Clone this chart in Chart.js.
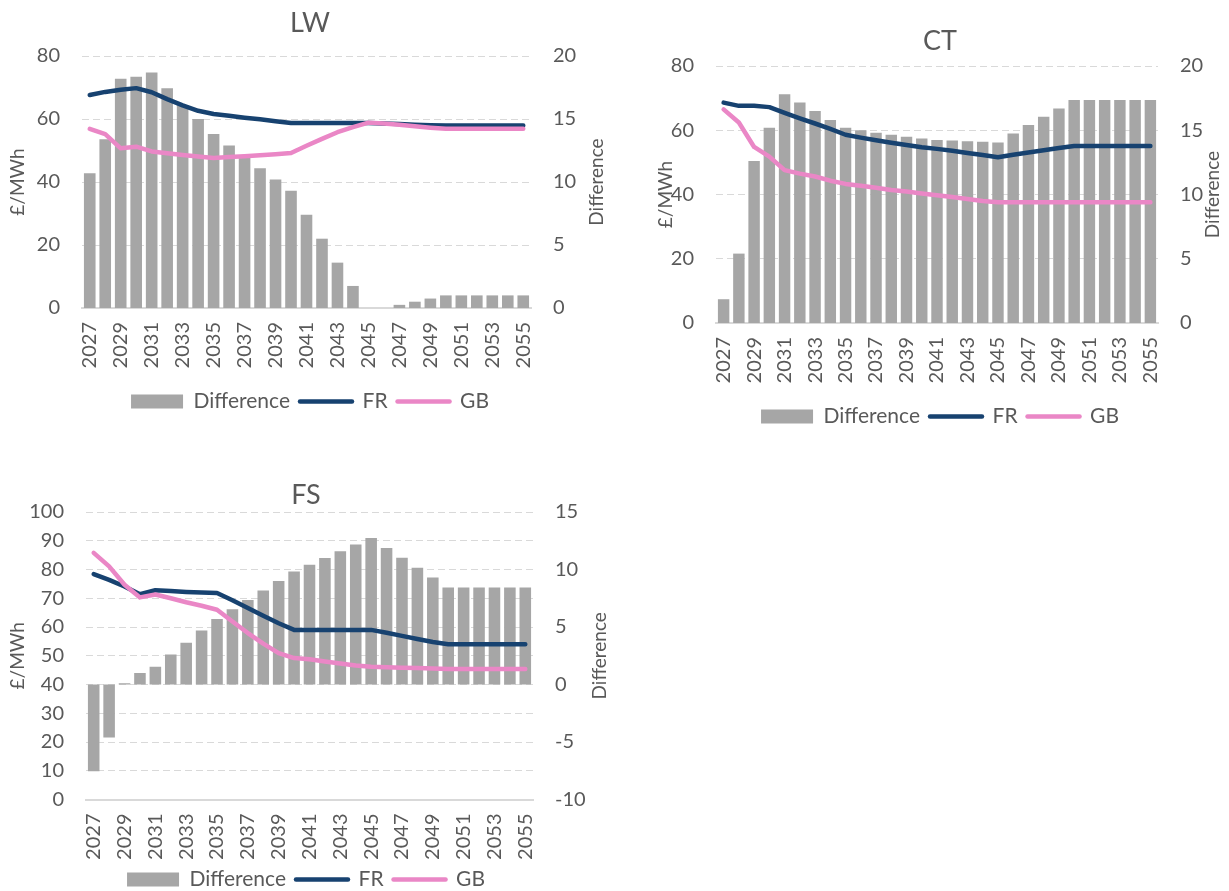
<!DOCTYPE html>
<html>
<head>
<meta charset="utf-8">
<script src="https://cdn.jsdelivr.net/npm/chart.js@4.4.1/dist/chart.umd.min.js"></script>
<style>
  html, body { margin: 0; padding: 0; background: #ffffff; width: 1229px; height: 891px; overflow: hidden; }
  .panel { position: absolute; }
  .panel canvas { display: block; }
</style>
</head>
<body>
<div class="panel" id="p-lw" style="left:0px;top:0px;width:620px;height:422px"><canvas id="c-lw"></canvas></div>
<div class="panel" id="p-ct" style="left:651px;top:18px;width:578px;height:419px"><canvas id="c-ct"></canvas></div>
<div class="panel" id="p-fs" style="left:0px;top:472px;width:612px;height:428px"><canvas id="c-fs"></canvas></div>

<script>
// Years on the category axis
const years = ['2027','2028','2029','2030','2031','2032','2033','2034','2035','2036',
               '2037','2038','2039','2040','2041','2042','2043','2044','2045','2046',
               '2047','2048','2049','2050','2051','2052','2053','2054','2055'];

// LW: difference (right axis) and prices in £/MWh (left axis)
const lwDiff = [10.7, 13.4, 18.2, 18.35, 18.7, 17.45, 16.1, 15.0, 13.8, 12.9,
                12.0, 11.1, 10.2, 9.3, 7.4, 5.5, 3.6, 1.75, -0.1, 0.0,
                0.25, 0.5, 0.75, 1.0, 1.0, 1.0, 1.0, 1.0, 1.0];
const lwFR   = [67.6, 68.6, 69.3, 69.8, 68.5, 66.3, 64.3, 62.6, 61.6, 61.0,
                60.4, 59.9, 59.3, 58.7, 58.7, 58.7, 58.7, 58.7, 58.7, 58.55,
                58.4, 58.2, 58.0, 57.9, 57.9, 57.9, 57.9, 57.9, 57.9];
const lwGB   = [56.85, 55.2, 50.7, 51.2, 49.7, 49.1, 48.6, 48.1, 47.6, 47.9,
                48.2, 48.5, 48.8, 49.2, 51.5, 53.7, 55.8, 57.4, 58.85, 58.55,
                58.15, 57.7, 57.25, 56.9, 56.9, 56.9, 56.9, 56.9, 56.9];

// CT
const ctDiff = [1.85, 5.4, 12.6, 15.2, 17.8, 17.15, 16.5, 15.8, 15.2, 15.0,
                14.8, 14.65, 14.5, 14.35, 14.25, 14.2, 14.15, 14.1, 14.05, 14.75,
                15.4, 16.05, 16.7, 17.35, 17.35, 17.35, 17.35, 17.35, 17.35];
const ctFR   = [68.6, 67.6, 67.6, 67.2, 65.4, 63.7, 62.1, 60.4, 58.6, 57.7,
                56.9, 56.1, 55.4, 54.7, 54.2, 53.6, 52.9, 52.3, 51.6, 52.4,
                53.1, 53.8, 54.5, 55.1, 55.1, 55.1, 55.1, 55.1, 55.1];
const ctGB   = [66.5, 62.4, 54.8, 51.8, 47.6, 46.5, 45.6, 44.3, 43.3, 42.7,
                42.1, 41.4, 40.9, 40.3, 39.8, 39.2, 38.6, 38.0, 37.6, 37.6,
                37.6, 37.6, 37.6, 37.6, 37.6, 37.6, 37.6, 37.6, 37.6];

// FS
const fsDiff = [-7.55, -4.6, 0.1, 1.0, 1.55, 2.6, 3.62, 4.7, 5.7, 6.55,
                7.35, 8.17, 9.0, 9.82, 10.42, 11.0, 11.58, 12.18, 12.75, 11.88,
                11.02, 10.15, 9.3, 8.43, 8.43, 8.43, 8.43, 8.43, 8.43];
const fsFR   = [78.4, 76.4, 74.1, 71.4, 72.8, 72.5, 72.2, 72.0, 71.8, 69.3,
                66.6, 63.9, 61.3, 59.0, 59.0, 59.0, 59.0, 59.0, 59.0, 58.0,
                56.9, 55.8, 54.8, 54.0, 54.0, 54.0, 54.0, 54.0, 54.0];
const fsGB   = [85.8, 81.1, 74.7, 70.3, 71.3, 70.0, 68.6, 67.4, 66.0, 61.9,
                57.9, 54.2, 50.9, 49.2, 48.8, 48.0, 47.3, 46.6, 46.2, 46.0,
                45.8, 45.7, 45.6, 45.4, 45.4, 45.4, 45.4, 45.4, 45.4];

// Axis ranges
const lwLeftTicks  = {min: 0, max: 80, step: 20};
const lwRightTicks = {min: 0, max: 20, step: 5};
const ctLeftTicks  = {min: 0, max: 80, step: 20};
const ctRightTicks = {min: 0, max: 20, step: 5};
const fsLeftTicks  = {min: 0, max: 100, step: 10};
const fsRightTicks = {min: -10, max: 15, step: 5};

const FONT = "Lato, 'Open Sans', 'DejaVu Sans', sans-serif";
const TEXT = '#595959';
const BAR = '#A6A6A6';
const FR_COL = '#174270';
const GB_COL = '#EA87C6';
const GRID = '#D9D9D9';

Chart.defaults.font.family = FONT;
Chart.defaults.color = TEXT;

// Right-hand axis title, read bottom-to-top
const rightAxisTitle = {
  id: 'rightAxisTitle',
  afterDraw(chart, args, opts) {
    const {ctx, chartArea} = chart;
    ctx.save();
    ctx.font = opts.size + 'px ' + FONT;
    ctx.fillStyle = TEXT;
    ctx.textAlign = 'center';
    ctx.textBaseline = 'middle';
    ctx.translate(opts.x, (chartArea.top + chartArea.bottom) / 2 + (opts.dy || 0));
    ctx.rotate(-Math.PI / 2);
    ctx.fillText(opts.text, 0, 0);
    ctx.restore();
  }
};

function buildChart(id, title, diff, fr, gb, leftT, rightT, g) {
  const baseLabels = Chart.defaults.plugins.legend.labels.generateLabels;
  return new Chart(document.getElementById(id), {
    type: 'bar',
    data: {
      labels: years,
      datasets: [
        { type: 'bar', label: 'Difference', data: diff, yAxisID: 'y1',
          backgroundColor: BAR, borderWidth: 0, order: 3,
          categoryPercentage: 0.75, barPercentage: 1 },
        { type: 'line', label: 'FR', data: fr, yAxisID: 'y',
          borderColor: FR_COL, backgroundColor: FR_COL, borderWidth: 4.5,
          pointRadius: 0, tension: 0, borderCapStyle: 'round', borderJoinStyle: 'round', order: 2 },
        { type: 'line', label: 'GB', data: gb, yAxisID: 'y',
          borderColor: GB_COL, backgroundColor: GB_COL, borderWidth: 4.5,
          pointRadius: 0, tension: 0, borderCapStyle: 'round', borderJoinStyle: 'round', order: 1 }
      ]
    },
    options: {
      responsive: true,
      maintainAspectRatio: false,
      animation: false,
      layout: { padding: 0 },
      plugins: {
        tooltip: { enabled: false },
        title: {
          display: true, text: title, color: TEXT,
          font: { size: 27, weight: 'normal', family: FONT },
          padding: { top: g.titleTop, bottom: g.titleBottom }
        },
        legend: {
          position: 'bottom',
          labels: {
            color: TEXT,
            font: { size: 21, family: FONT },
            usePointStyle: true,
            pointStyleWidth: 52,
            boxHeight: 14,
            padding: 10,
            sort: (a, b) => a.datasetIndex - b.datasetIndex,
            generateLabels(chart) {
              return baseLabels(chart).map(item => {
                if (item.datasetIndex === 0) {
                  item.pointStyle = 'rect';
                  item.lineWidth = 0;
                  item.fillStyle = BAR;
                  item.strokeStyle = BAR;
                } else {
                  item.pointStyle = 'line';
                  item.lineWidth = 4.5;
                  item.lineCap = 'round';
                }
                return item;
              });
            }
          }
        },
        rightAxisTitle: { text: 'Difference', x: g.rightTitleX, size: 19 }
      },
      scales: {
        x: {
          grid: { display: false, drawTicks: false },
          border: { display: true, color: GRID, width: 2 },
          ticks: {
            autoSkip: false, maxRotation: 90, minRotation: 90, padding: 14,
            color: TEXT, font: { size: 20 },
            callback: function (v, i) { return i % 2 === 0 ? this.getLabelForValue(v) : ''; }
          },
          afterFit: s => { s.height = g.xHeight; }
        },
        y: {
          position: 'left',
          min: leftT.min, max: leftT.max,
          grid: { color: GRID, lineWidth: 1, drawTicks: false },
          border: { display: false, dash: [7, 4] },
          ticks: { stepSize: leftT.step, padding: 22, color: TEXT, font: { size: 20 } },
          title: { display: true, text: '£/MWh', color: TEXT, font: { size: 19 }, padding: { top: g.leftTitlePad, bottom: 0 } },
          afterFit: s => { s.width = g.leftW; }
        },
        y1: {
          position: 'right',
          min: rightT.min, max: rightT.max,
          grid: { display: false, drawTicks: false },
          border: { display: false },
          ticks: { stepSize: rightT.step, padding: 22, color: TEXT, font: { size: 20 } },
          afterFit: s => { s.width = g.rightW; }
        }
      }
    },
    plugins: [rightAxisTitle]
  });
}

buildChart('c-lw', 'LW', lwDiff, lwFR, lwGB, lwLeftTicks, lwRightTicks,
  { titleTop: 7, titleBottom: 16.6, xHeight: 73, leftW: 82, rightW: 89, leftTitlePad: 6, rightTitleX: 597 });
buildChart('c-ct', 'CT', ctDiff, ctFR, ctGB, ctLeftTicks, ctRightTicks,
  { titleTop: 7, titleBottom: 8.6, xHeight: 73, leftW: 65, rightW: 71, leftTitlePad: 3, rightTitleX: 562 });
buildChart('c-fs', 'FS', fsDiff, fsFR, fsGB, fsLeftTicks, fsRightTicks,
  { titleTop: 7, titleBottom: 0.6, xHeight: 59.5, leftW: 86, rightW: 79, leftTitlePad: 6, rightTitleX: 600 });
</script>
</body>
</html>
